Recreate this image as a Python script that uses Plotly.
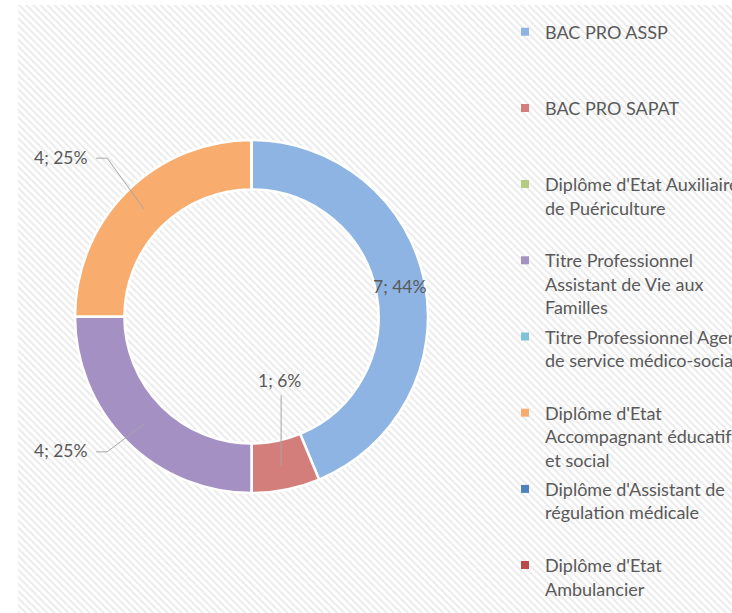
import math
import plotly.graph_objects as go

W, H = 732, 613

# ---------------- data ----------------
categories = [
    "BAC PRO ASSP",
    "BAC PRO SAPAT",
    "Diplôme d'Etat Auxiliaire de Puériculture",
    "Titre Professionnel Assistant de Vie aux Familles",
    "Titre Professionnel Agent de service médico-social",
    "Diplôme d'Etat Accompagnant éducatif et social",
    "Diplôme d'Assistant de régulation médicale",
    "Diplôme d'Etat Ambulancier",
]
legend_lines = [
    ["BAC PRO ASSP"],
    ["BAC PRO SAPAT"],
    ["Diplôme d'Etat Auxiliaire", "de Puériculture"],
    ["Titre Professionnel", "Assistant de Vie aux", "Familles"],
    ["Titre Professionnel Agent", "de service médico-social"],
    ["Diplôme d'Etat", "Accompagnant éducatif", "et social"],
    ["Diplôme d'Assistant de", "régulation médicale"],
    ["Diplôme d'Etat", "Ambulancier"],
]
values = [7, 1, 0, 4, 0, 4, 0, 0]

# ---------------- style ----------------
slice_colors = ["#8DB4E2", "#D47E7B", "#B3CC82", "#A490C2", "#7DC2D6", "#F8AD6E", "#4F81BD", "#B94B48"]
FONT = "Lato, 'Open Sans', sans-serif"
FS = 18
TEXT_COLOR = "#595959"
LEADER_COLOR = "#A6A6A6"

CX, CY, R_OUT = 251.5, 316.5, 176.5      # donut centre / radius in pixels
HOLE = 0.72
R_MID = R_OUT * (1 + HOLE) / 2
PANEL_LEFT, PANEL_TOP = 18, 5             # hatched chart-area origin

# label placement per slice: (kind, dx, dy) offset from the slice mid-point
label_style = {
    0: ("inside", 0, 0),
    1: ("above", -2, -85),
    3: ("left", -54, 27),
    5: ("left", -54, -52),
}

fig = go.Figure()

# hatched chart-area background
fig.add_trace(go.Scatter(
    x=[PANEL_LEFT, W, W, PANEL_LEFT, PANEL_LEFT],
    y=[PANEL_TOP, PANEL_TOP, H, H, PANEL_TOP],
    fill="toself", mode="none",
    fillcolor="white",
    fillpattern=dict(shape="\\", size=5, solidity=0.4, fgcolor="#D6D6D6", bgcolor="white"),
    hoverinfo="skip", showlegend=False,
))

# legend entries (all lines padded to equal height except the last one)
for i, (lines, col) in enumerate(zip(legend_lines, slice_colors)):
    pad = 3 - len(lines) if i < len(legend_lines) - 1 else 0
    name = "<br>".join(lines + ["\u00a0"] * pad)
    fig.add_trace(go.Scatter(
        x=[None], y=[None], mode="markers",
        marker=dict(symbol="square", size=8, color=col),
        name=name, legendgroup=str(i), showlegend=True, hoverinfo="skip",
    ))

# the donut
fig.add_trace(go.Pie(
    labels=categories, values=values, hole=HOLE, sort=False,
    direction="clockwise", rotation=0,
    marker=dict(colors=slice_colors, line=dict(color="white", width=2.5)),
    textinfo="none", showlegend=False,
    domain=dict(x=[(CX - R_OUT) / W, (CX + R_OUT) / W],
                y=[(H - CY - R_OUT) / H, (H - CY + R_OUT) / H]),
))

# data labels with leader lines, derived from the values
total = sum(values)
cum = 0
annotations, shapes = [], []
for i, v in enumerate(values):
    start = cum / total
    cum += v
    if v == 0 or i not in label_style:
        continue
    mid = (start + cum / total) / 2
    ang = 2 * math.pi * mid
    px = CX + R_MID * math.sin(ang)
    py = CY - R_MID * math.cos(ang)
    text = f"{v}; {round(100 * v / total)}%"
    kind, dx, dy = label_style[i]
    font = dict(family=FONT, size=FS - 0.5, color=TEXT_COLOR)
    if kind == "inside":
        annotations.append(dict(x=px, y=py, xref="x", yref="y", text=text, showarrow=False,
                                xanchor="center", yanchor="middle", font=font))
    elif kind == "above":
        tx, ty = px + dx, py + dy
        annotations.append(dict(x=tx, y=ty, xref="x", yref="y", text=text, showarrow=False,
                                xanchor="center", yanchor="middle", font=font))
        shapes.append(dict(type="path", xref="x", yref="y", layer="above",
                           path=f"M{px},{ty + 15} L{px},{py}",
                           line=dict(color=LEADER_COLOR, width=1)))
    else:
        tx, ty = px + dx, py + dy
        annotations.append(dict(x=tx, y=ty, xref="x", yref="y", text=text, showarrow=False,
                                xanchor="right", yanchor="middle", font=font))
        shapes.append(dict(type="path", xref="x", yref="y", layer="above",
                           path=f"M{tx + 6},{ty + 1} L{tx + 17},{ty + 1} L{px},{py}",
                           line=dict(color=LEADER_COLOR, width=1)))

fig.update_layout(
    width=W, height=H,
    margin=dict(l=0, r=0, t=0, b=0, autoexpand=False),
    paper_bgcolor="white", plot_bgcolor="rgba(0,0,0,0)",
    xaxis=dict(range=[0, W], visible=False, fixedrange=True),
    yaxis=dict(range=[H, 0], visible=False, fixedrange=True),
    annotations=annotations, shapes=shapes,
    showlegend=True,
    legend=dict(x=(545 - 40) / W, y=1 - 13.5 / H, xanchor="left", yanchor="top",
                bgcolor="rgba(0,0,0,0)", borderwidth=0,
                font=dict(family=FONT, size=FS, color=TEXT_COLOR),
                traceorder="grouped", tracegroupgap=3, valign="top"),
    font=dict(family=FONT, color=TEXT_COLOR),
)

fig.write_html(
    "out.html",
    config={"displayModeBar": False},
    post_script="document.body.style.margin='0';document.body.style.overflow='hidden';",
)
